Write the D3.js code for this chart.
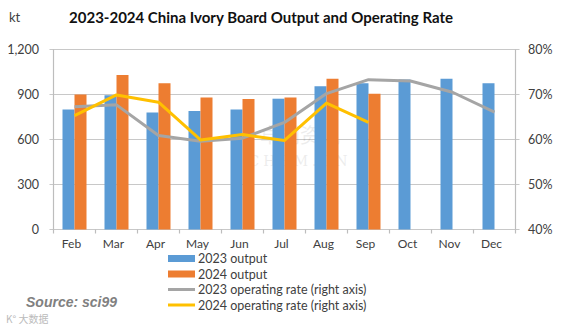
<!DOCTYPE html>
<html><head><meta charset="utf-8">
<script src="https://cdn.jsdelivr.net/npm/d3@7"></script>
<style>body{margin:0;background:#fff}svg{display:block}</style>
</head><body>
<script>
const months = ["Feb","Mar","Apr","May","Jun","Jul","Aug","Sep","Oct","Nov","Dec"];
const output2023 = [800, 895, 780, 790, 800, 872, 955, 975, 1000, 1005, 975];
const output2024 = [900, 1030, 975, 880, 870, 880, 1005, 905];
const rate2023 = [67.3, 67.7, 60.9, 59.6, 60.3, 63.8, 70.2, 73.3, 73.0, 70.5, 66.1];
const rate2024 = [65.3, 69.9, 68.3, 59.9, 61.1, 59.8, 68.1, 63.8];
const leftTicks = [0, 300, 600, 900, 1200];
const rightTicks = [40, 50, 60, 70, 80];
const legendLabels = ["2023 output","2024 output","2023 operating rate (right axis)","2024 operating rate (right axis)"];
const colors = ["#5b9bd5","#ed7d31","#a5a5a5","#ffc000"];

const W = 563, H = 327;
const svg = d3.select("body").append("svg").attr("width", W).attr("height", H);
const font = "Lato, 'Open Sans', sans-serif";
const x0 = 53.5, x1 = 515.5, yTop = 49.5, yBot = 229.5;

const x = d3.scaleBand().domain(months).range([x0, x1]).paddingInner(0).paddingOuter(0);
const yL = d3.scaleLinear().domain([0, 1200]).range([yBot, yTop]);
const yR = d3.scaleLinear().domain([40, 80]).range([yBot, yTop]);

// gridlines
svg.append("g").selectAll("line").data(leftTicks).join("line")
  .attr("x1", x0 - 4).attr("x2", x1 + 4)
  .attr("y1", d => yL(d)).attr("y2", d => yL(d))
  .attr("stroke", "#c8c8c8").attr("stroke-width", 1.2);
svg.append("line").attr("x1", x0).attr("x2", x0).attr("y1", yTop).attr("y2", yBot).attr("stroke", "#bdbdbd").attr("stroke-width", 1.2);
svg.append("line").attr("x1", x1).attr("x2", x1).attr("y1", yTop).attr("y2", yBot).attr("stroke", "#bdbdbd").attr("stroke-width", 1.2);
const bounds = months.map(m => x(m)).concat([x1]);
svg.append("g").selectAll("line").data(bounds).join("line")
  .attr("x1", d => d).attr("x2", d => d).attr("y1", yBot).attr("y2", yBot + 4)
  .attr("stroke", "#bdbdbd").attr("stroke-width", 1.2);

// watermark
svg.append("text").attr("x", 300).attr("y", 143).attr("text-anchor", "middle")
  .attr("font-family", "'Noto Sans CJK SC', sans-serif").attr("font-size", 20)
  .attr("fill", "#000").attr("opacity", 0.07).text("卓创资讯");
svg.append("text").attr("x", 300).attr("y", 166).attr("text-anchor", "middle")
  .attr("font-family", "'DejaVu Serif', serif").attr("font-size", 14).attr("letter-spacing", 4)
  .attr("fill", "#000").attr("opacity", 0.07).text("CHEM.CN");

// bars
const bw = 12;
svg.append("g").selectAll("rect").data(output2023).join("rect")
  .attr("x", (d, i) => x(months[i]) + x.bandwidth() / 2 - bw)
  .attr("width", bw).attr("y", d => yL(d)).attr("height", d => yBot - yL(d))
  .attr("fill", colors[0]);
svg.append("g").selectAll("rect").data(output2024).join("rect")
  .attr("x", (d, i) => x(months[i]) + x.bandwidth() / 2)
  .attr("width", bw).attr("y", d => yL(d)).attr("height", d => yBot - yL(d))
  .attr("fill", colors[1]);

// lines
const line = d3.line().x((d, i) => x(months[i]) + x.bandwidth() / 2).y(d => yR(d));
svg.append("path").datum(rate2023).attr("d", line).attr("fill", "none")
  .attr("stroke", colors[2]).attr("stroke-width", 3).attr("stroke-linejoin", "round");
svg.append("path").datum(rate2024).attr("d", line).attr("fill", "none")
  .attr("stroke", colors[3]).attr("stroke-width", 3).attr("stroke-linejoin", "round");

// tick labels
svg.append("g").selectAll("text").data(leftTicks).join("text")
  .attr("x", 39).attr("y", d => yL(d) + 4.5).attr("text-anchor", "end")
  .attr("font-family", font).attr("font-size", 12.5).attr("fill", "#404040")
  .text(d => d3.format(",")(d));
svg.append("g").selectAll("text").data(rightTicks).join("text")
  .attr("x", 528).attr("y", d => yR(d) + 4.5).attr("text-anchor", "start")
  .attr("font-family", font).attr("font-size", 12.5).attr("fill", "#404040")
  .text(d => d + "%");
svg.append("g").selectAll("text").data(months).join("text")
  .attr("x", d => x(d) + x.bandwidth() / 2 - 3).attr("y", 248).attr("text-anchor", "middle")
  .attr("font-family", font).attr("font-size", 12).attr("fill", "#404040")
  .text(d => d);

// unit
svg.append("text").attr("x", 9).attr("y", 22).attr("font-family", font)
  .attr("font-size", 13).attr("fill", "#404040").text("kt");
// title
svg.append("text").attr("x", 261).attr("y", 23).attr("text-anchor", "middle")
  .attr("font-family", font).attr("font-weight", "bold").attr("font-size", 15)
  .attr("fill", "#111").text("2023-2024 China Ivory Board Output and Operating Rate");

// legend
const lg = svg.append("g");
legendLabels.forEach((t, i) => {
  const yy = 258.5 + i * 15.5;
  if (i < 2) lg.append("rect").attr("x", 168).attr("y", yy - 3.5).attr("width", 27).attr("height", 7).attr("fill", colors[i]);
  else lg.append("line").attr("x1", 168).attr("x2", 195).attr("y1", yy).attr("y2", yy).attr("stroke", colors[i]).attr("stroke-width", 3);
  lg.append("text").attr("x", 198).attr("y", yy + 4.5).attr("font-family", font)
    .attr("font-size", 12.5).attr("fill", "#404040").text(t);
});

// source
svg.append("text").attr("x", 26).attr("y", 307).attr("font-family", "'Liberation Sans', Arial, sans-serif")
  .attr("font-weight", "bold").attr("font-style", "italic").attr("font-size", 14)
  .attr("fill", "#808080").text("Source: sci99");
svg.append("text").attr("x", 6).attr("y", 323).attr("font-family", "'Noto Sans CJK SC', sans-serif")
  .attr("font-size", 10).attr("fill", "#bbb").text("K° 大数据");
</script>
</body></html>
